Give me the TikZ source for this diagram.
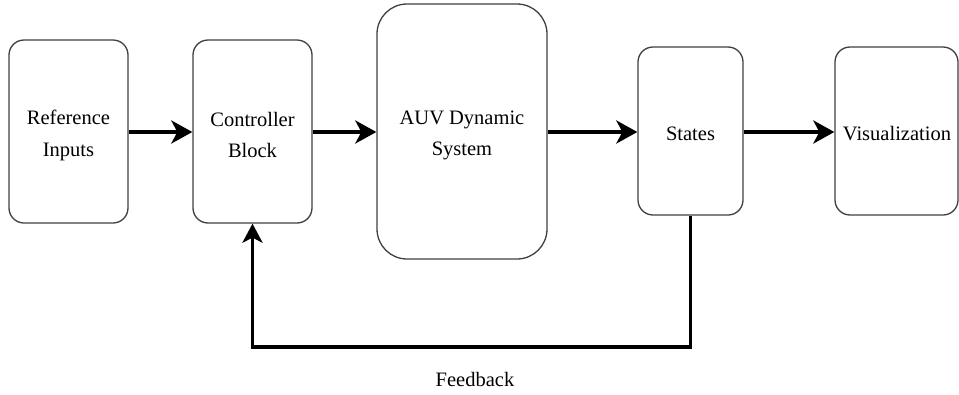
\documentclass[tikz,border=0pt]{standalone}
\usepackage{fontspec}
\setmainfont{Liberation Serif}
\usetikzlibrary{arrows.meta}
\begin{document}
\begin{tikzpicture}[x=1pt,y=-1pt,
  blk/.style={draw=black!75, line width=1.3pt, rounded corners=15pt, fill=white, inner sep=0pt},
  txt/.style={align=center, inner sep=0pt, font=\fontsize{20.5}{31.5}\selectfont},
  arr/.style={line width=4.5pt, -{Stealth[length=21pt, width=23pt, inset=6pt]}},
  fbline/.style={line width=3.8pt, -{Stealth[length=19pt, width=20pt, inset=5pt]}}]
\useasboundingbox (0,0) rectangle (959,394);
\fill[white] (0,0) rectangle (959,394);
\node[blk, minimum width=119pt, minimum height=183pt] (ref) at (68.5,131.5) {};
\node[blk, minimum width=119pt, minimum height=183pt] (ctrl) at (252.5,131.5) {};
\node[blk, rounded corners=30pt, minimum width=170pt, minimum height=255pt] (auv) at (462,131.5) {};
\node[blk, minimum width=105pt, minimum height=168pt] (states) at (690.5,131) {};
\node[blk, minimum width=123pt, minimum height=168pt] (vis) at (896.5,131) {};
\node[txt] (reft) at (68.5,135.5) {Reference\\Inputs};
\node[txt] (ctrlt) at (252.5,135) {Controller\\Block};
\node[txt] (auvt) at (462,135.5) {AUV Dynamic\\System};
\node[txt] (statest) at (690.5,133.5) {States};
\node[txt] (vist) at (897,133.5) {Visualization};
\draw[arr] (ref.east |- 0,132) -- (ctrl.west |- 0,132);
\draw[arr] (ctrl.east |- 0,132) -- (auv.west |- 0,132);
\draw[arr] (auv.east |- 0,132) -- (states.west |- 0,132);
\draw[arr] (states.east |- 0,132) -- (vis.west |- 0,132);
\coordinate (fbR) at (690.5,347);
\coordinate (fbL) at (252.5,347);
\draw[fbline] (states.south) -- (fbR) -- (fbL) -- (ctrl.south);
\node[txt] (fbtext) at (475,379) {Feedback};
\end{tikzpicture}
\end{document}
